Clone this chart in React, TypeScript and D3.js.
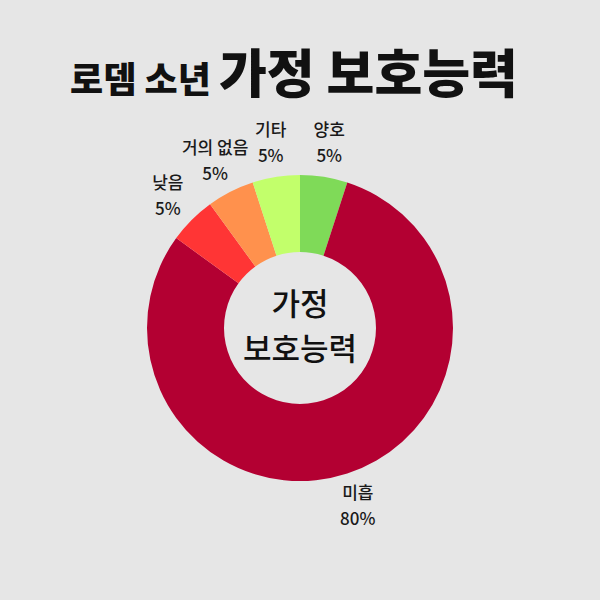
import * as d3 from 'd3';
import { useEffect, useRef } from 'react';

const width = 600;
const height = 600;

// slices, clockwise from 12 o'clock
const labels = ['양호', '미흡', '낮음', '거의 없음', '기타'];
const values = [5, 80, 5, 5, 5];
const colors = ['#7fda58', '#b30032', '#ff3535', '#ff914d', '#c2ff6b'];

const titleSmall = '로뎀 소년';
const titleBig = '가정 보호능력';
const centerLines = ['가정', '보호능력'];

const font = '"Noto Sans CJK KR", "Noto Sans", sans-serif';

export default function App() {
  const ref = useRef<SVGSVGElement>(null);

  useEffect(() => {
    const svg = d3.select(ref.current);
    svg.selectAll('*').remove();

    const cx = 300;
    const cy = 328;
    const outer = 153;
    const inner = 76;
    const labelR = 187;

    svg
      .append('rect')
      .attr('width', width)
      .attr('height', height)
      .attr('fill', '#e6e6e6');

    // title
    const title = svg
      .append('text')
      .attr('x', 294)
      .attr('y', 93)
      .attr('text-anchor', 'middle')
      .attr('font-family', font)
      .attr('font-weight', 900)
      .attr('fill', '#111');
    title.append('tspan').attr('font-size', 36).text(titleSmall + ' ');
    title.append('tspan').attr('font-size', 52).text(titleBig);

    const data = labels.map((label, i) => ({ label, value: values[i], color: colors[i] }));
    const total = d3.sum(values);

    const pie = d3
      .pie<{ label: string; value: number; color: string }>()
      .value((d) => d.value)
      .sort(null);
    const arcs = pie(data);

    const arc = d3
      .arc<d3.PieArcDatum<{ label: string; value: number; color: string }>>()
      .innerRadius(inner)
      .outerRadius(outer);

    const g = svg.append('g').attr('transform', `translate(${cx},${cy})`);

    g.selectAll('path')
      .data(arcs)
      .join('path')
      .attr('d', arc)
      .attr('fill', (d) => d.data.color);

    // outer labels
    const labelArc = d3
      .arc<d3.PieArcDatum<{ label: string; value: number; color: string }>>()
      .innerRadius(labelR)
      .outerRadius(labelR);

    const lab = g
      .selectAll('text.lab')
      .data(arcs)
      .join('text')
      .attr('class', 'lab')
      .attr('transform', (d) => `translate(${labelArc.centroid(d)})`)
      .attr('text-anchor', 'middle')
      .attr('font-family', font)
      .attr('font-size', 17)
      .attr('font-weight', 500)
      .attr('fill', '#1a1a1a');
    lab
      .append('tspan')
      .attr('x', 0)
      .attr('y', -7)
      .text((d) => d.data.label);
    lab
      .append('tspan')
      .attr('x', 0)
      .attr('y', 19)
      .text((d) => `${Math.round((d.data.value / total) * 100)}%`);

    // center text
    g.selectAll('text.center')
      .data(centerLines)
      .join('text')
      .attr('class', 'center')
      .attr('x', 0)
      .attr('y', (d, i) => -13 + i * 45)
      .attr('text-anchor', 'middle')
      .attr('font-family', font)
      .attr('font-size', 31)
      .attr('font-weight', 500)
      .attr('fill', '#111')
      .text((d) => d);
  }, []);

  return (
    <svg
      ref={ref}
      width={width}
      height={height}
      style={{ display: 'block', position: 'absolute', left: 0, top: 0 }}
    />
  );
}
